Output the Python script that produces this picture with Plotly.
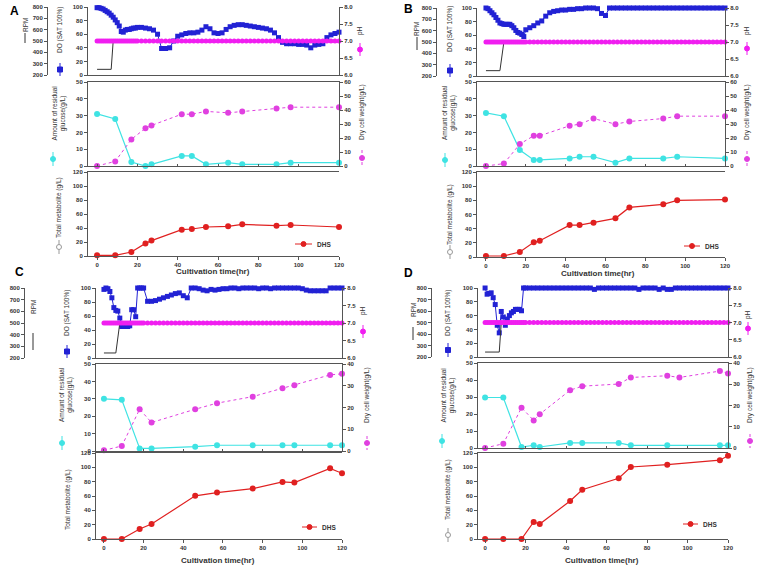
import plotly.graph_objects as go

W, H = 758, 569

# ---------------- data ----------------
# online DO / pH time grid (hourly first 20 h, then every 2 h)
t_do = list(range(0, 20)) + list(range(20, 121, 2))

do_A = [99, 99, 98, 97, 95, 93, 91, 88, 85, 81, 77, 72, 64, 63, 66, 67, 67, 68, 69, 69,
        70, 70, 69, 68, 66, 60, 39, 39, 40, 50,
        57, 59, 61, 62, 62, 63, 66, 71, 68, 62,
        61, 62, 67, 71, 73, 74, 74, 73, 72, 71,
        70, 69, 68, 66, 62, 55, 48, 46, 46, 46,
        45, 45, 44, 40, 44, 45, 46, 55, 59, 61,
        63]
do_B = [100, 99, 96, 93, 90, 86, 82, 78, 77, 76, 76, 76, 76, 74, 71, 67, 64, 63, 61, 58,
        68, 71, 74, 78, 81, 88, 93, 95, 96, 97,
        97, 98, 98, 99, 99, 100, 100, 100, 99, 92,
        89, 100, 100, 100, 100, 100, 100, 100, 100, 100,
        100, 100, 100, 100, 100, 100, 100, 100, 100, 100,
        100, 100, 100, 100, 100, 100, 100, 100, 100, 100,
        100]
do_C = [98, 100, 99, 95, 86, 72, 68, 67, 57, 45, 46, 45, 45, 46, 69, 69, 59, 100, 100, 100,
        100, 81, 81, 82, 84, 86, 88, 90, 92, 93,
        89, 86, 100, 100, 99, 97, 96, 98, 97, 98,
        99, 99, 100, 100, 99, 100, 100, 100, 100, 99,
        100, 100, 99, 100, 100, 100, 100, 100, 100, 100,
        99, 97, 96, 96, 96, 96, 96, 100, 100, 100,
        100]
do_D = [100, 91, 92, 93, 86, 76, 46, 35, 66, 58, 46, 55, 60, 64, 66, 69, 69, 69, 67, 100,
        100, 100, 100, 100, 100, 100, 100, 100, 100, 100,
        100, 100, 100, 100, 100, 100, 100, 98, 100, 100,
        100, 100, 100, 100, 100, 100, 100, 100, 98, 100,
        100, 100, 100, 98, 100, 98, 98, 100, 100, 100,
        100, 100, 100, 100, 100, 100, 100, 100, 100, 100,
        100]
ph_all = [7.0, 7.0, 7.0, 7.0, 7.0, 7.0, 7.0, 7.0, 7.0, 7.0, 7.0, 7.0, 7.0, 7.0, 7.0, 7.0, 7.0, 7.0, 7.0, 7.0,
          7.0, 7.0, 7.0, 7.0, 7.0, 7.0, 7.0, 7.0, 7.0, 7.0,
          7.0, 7.0, 7.0, 7.0, 7.0, 7.0, 7.0, 7.0, 7.0, 7.0,
          7.0, 7.0, 7.0, 7.0, 7.0, 7.0, 7.0, 7.0, 7.0, 7.0,
          7.0, 7.0, 7.0, 7.0, 7.0, 7.0, 7.0, 7.0, 7.0, 7.0,
          7.0, 7.0, 7.0, 7.0, 7.0, 7.0, 7.0, 7.0, 7.0, 7.0,
          7.0]

# agitation (RPM)
t_rpm_A = [0, 7, 8, 120]
rpm_A = [250, 250, 500, 500]
t_rpm_B = [0, 7, 9, 120]
rpm_B = [247, 247, 500, 500]
t_rpm_C = [0, 6, 8, 120]
rpm_C = [243, 243, 500, 500]
t_rpm_D = [0, 7, 8, 120]
rpm_D = [243, 243, 500, 500]

# off-line samples
t_s_A = [0, 9, 17, 24, 27, 42, 47, 54, 65, 72, 89, 96, 120]
glu_A = [31, 28, 2.4, 0, 1, 6, 6, 1, 2, 1, 1, 2, 2]
dcw_A = [0, 3.3, 19, 27, 29, 37, 37, 39, 38, 39, 41, 42, 42]
dhs_A = [1, 1, 5.7, 18, 22, 37.6, 38.6, 41.4, 42.4, 45.2, 43.3, 44.3, 41.4]

t_s_B = [0, 9, 17, 24, 27, 42, 47, 54, 65, 72, 89, 96, 120]
glu_B = [31.6, 29.6, 9.5, 3.6, 3.6, 4.5, 5.5, 5.5, 2, 4.5, 4.5, 5.5, 4.5]
dcw_B = [0, 1.7, 15.7, 21.6, 21.6, 28.7, 29.9, 33.9, 29.9, 31.8, 33.9, 35.6, 35.6]
dhs_B = [1.4, 1.4, 7, 20.7, 23, 45, 45, 48.5, 54.6, 70, 74.4, 80, 81]

t_s_C = [0, 9, 18, 24, 46, 57, 75, 90, 96, 114, 120]
glu_C = [30, 29.4, 1.5, 1.5, 2.5, 3.3, 3.3, 3.3, 3.3, 3.3, 3.3]
dcw_C = [0.3, 2.3, 19.2, 13.1, 19.2, 22, 25, 28.9, 30.2, 35, 35.5]
dhs_C = [0, 0, 13.9, 20.8, 60.2, 64.8, 70.4, 79.6, 78.7, 98.6, 91.7]

t_s_D = [0, 9, 18, 24, 27, 42, 48, 66, 72, 90, 116, 120]
glu_D = [29.7, 29.7, 0.6, 1.6, 0.6, 3, 3, 3, 1.6, 1.6, 1.6, 1.6]
dhs_D = [0, 0, 0, 23.7, 20.9, 53, 68.8, 84.7, 100.5, 103.7, 110, 116.3]
t_dcw_D = [0, 9, 18, 24, 27, 42, 48, 66, 72, 90, 96, 116, 120]
dcw_D = [0, 2, 19, 13, 15.9, 27.2, 29.1, 30.1, 33.2, 34, 33.2, 36.2, 35.1]

x_ticks = [0, 20, 40, 60, 80, 100, 120]
ph_ticks = [6.0, 6.5, 7.0, 7.5, 8.0]
ph_ticktext = ["6.0", "6.5", "7.0", "7.5", "8.0"]

# ---------------- style ----------------
FONT = "Arial, Liberation Sans, sans-serif"
TICKFONT = dict(family=FONT, size=6, color="#333333", weight="bold")
AX = "#555555"
C_DO = "#2222d4"
C_PH = "#f01ef0"
C_GLU = "#3fe3e3"
C_DCW = "#e040e0"
C_DHS = "#e02020"

panels = [
    dict(t_rpm=t_rpm_A, rpm=rpm_A, do=do_A, t_g=t_s_A, glu=glu_A, t_w=t_s_A, dcw=dcw_A, t_h=t_s_A, dhs=dhs_A,
         dcw_max=60,
         geo=dict(x0=88, x1=339, top=(7, 75), mid=(82, 166), bot=(172, 256), xr=[-4.5, 120], rpm_pos=47)),
    dict(t_rpm=t_rpm_B, rpm=rpm_B, do=do_B, t_g=t_s_B, glu=glu_B, t_w=t_s_B, dcw=dcw_B, t_h=t_s_B, dhs=dhs_B,
         dcw_max=60,
         geo=dict(x0=477, x1=725, top=(8, 76), mid=(82, 166), bot=(172, 257), xr=[-4.5, 120], rpm_pos=436)),
    dict(t_rpm=t_rpm_C, rpm=rpm_C, do=do_C, t_g=t_s_C, glu=glu_C, t_w=t_s_C, dcw=dcw_C, t_h=t_s_C, dhs=dhs_C,
         dcw_max=40,
         geo=dict(x0=96, x1=342, top=(288, 358), mid=(364, 451), bot=(453, 539), xr=[-4, 120], rpm_pos=24)),
    dict(t_rpm=t_rpm_D, rpm=rpm_D, do=do_D, t_g=t_s_D, glu=glu_D, t_w=t_dcw_D, dcw=dcw_D, t_h=t_s_D, dhs=dhs_D,
         dcw_max=40,
         geo=dict(x0=478, x1=728, top=(288, 357), mid=(363, 448), bot=(453, 539), xr=[-3.5, 120], rpm_pos=431)),
]


def fx(px):
    return px / W


def fy(py):
    return 1 - py / H


def aname(prefix, n):
    return prefix if n == 1 else f"{prefix}{n}"


def akey(prefix, n):
    return f"{prefix}axis" if n == 1 else f"{prefix}axis{n}"


fig = go.Figure()
layout = {}
shapes = []
annotations = []

base = dict(showgrid=False, zeroline=False, showline=True, linecolor=AX, linewidth=1, automargin=False,
            ticks="outside", ticklen=3, tickwidth=1, tickcolor=AX, tickfont=TICKFONT)

for p, P in enumerate(panels):
    g = P["geo"]
    nxt, nxm, nxb = 3 * p + 1, 3 * p + 2, 3 * p + 3
    ndo, nrpm, nph, nglu, ndcw, nmet = [6 * p + k for k in range(1, 7)]
    dom_x = [fx(g["x0"]), fx(g["x1"])]
    dtop = [fy(g["top"][1]), fy(g["top"][0])]
    dmid = [fy(g["mid"][1]), fy(g["mid"][0])]
    dbot = [fy(g["bot"][1]), fy(g["bot"][0])]

    layout[akey("x", nxt)] = dict(base, domain=dom_x, range=g["xr"], anchor=aname("y", ndo),
                                  showticklabels=False, ticks="", mirror=False)
    layout[akey("x", nxm)] = dict(base, domain=dom_x, range=g["xr"], anchor=aname("y", nglu),
                                  showticklabels=False, ticks="inside", ticklen=2, tickvals=x_ticks, mirror=True)
    layout[akey("x", nxb)] = dict(base, domain=dom_x, range=g["xr"], anchor=aname("y", nmet),
                                  tickvals=x_ticks, mirror=True)

    layout[akey("y", ndo)] = dict(base, domain=dtop, range=[0, 100], tickvals=[0, 20, 40, 60, 80, 100],
                                  anchor=aname("x", nxt), side="left")
    layout[akey("y", nrpm)] = dict(base, range=[200, 800], tickvals=[200, 300, 400, 500, 600, 700, 800],
                                   overlaying=aname("y", ndo), anchor="free", position=fx(g["rpm_pos"]),
                                   side="left")
    layout[akey("y", nph)] = dict(base, range=[6, 8], tickvals=ph_ticks, ticktext=ph_ticktext,
                                  overlaying=aname("y", ndo), anchor=aname("x", nxt), side="right")
    layout[akey("y", nglu)] = dict(base, domain=dmid, range=[0, 50], tickvals=[0, 10, 20, 30, 40, 50],
                                   anchor=aname("x", nxm), side="left")
    layout[akey("y", ndcw)] = dict(base, range=[0, P["dcw_max"]],
                                   tickvals=list(range(0, P["dcw_max"] + 1, 10)),
                                   overlaying=aname("y", nglu), anchor=aname("x", nxm), side="right")
    layout[akey("y", nmet)] = dict(base, domain=dbot, range=[0, 120], tickvals=[0, 20, 40, 60, 80, 100, 120],
                                   anchor=aname("x", nxb), side="left")

    xt, xm, xb = aname("x", nxt), aname("x", nxm), aname("x", nxb)
    fig.add_trace(go.Scatter(x=t_do, y=P["do"], xaxis=xt, yaxis=aname("y", ndo), mode="lines+markers",
                             line=dict(color=C_DO, width=1), marker=dict(symbol="square", size=5, color=C_DO),
                             cliponaxis=False, showlegend=False))
    fig.add_trace(go.Scatter(x=P["t_rpm"], y=P["rpm"], xaxis=xt, yaxis=aname("y", nrpm), mode="lines",
                             line=dict(color="#333333", width=1), showlegend=False))
    fig.add_trace(go.Scatter(x=t_do, y=ph_all, xaxis=xt, yaxis=aname("y", nph), mode="lines+markers",
                             line=dict(color=C_PH, width=2), marker=dict(symbol="circle", size=5, color=C_PH),
                             cliponaxis=False, showlegend=False))
    fig.add_trace(go.Scatter(x=P["t_g"], y=P["glu"], xaxis=xm, yaxis=aname("y", nglu), mode="lines+markers",
                             line=dict(color=C_GLU, width=1.2), marker=dict(symbol="circle", size=6, color=C_GLU),
                             cliponaxis=False, showlegend=False))
    fig.add_trace(go.Scatter(x=P["t_w"], y=P["dcw"], xaxis=xm, yaxis=aname("y", ndcw), mode="lines+markers",
                             line=dict(color=C_DCW, width=1, dash="dot"),
                             marker=dict(symbol="circle", size=6, color=C_DCW),
                             cliponaxis=False, showlegend=False))
    fig.add_trace(go.Scatter(x=P["t_h"], y=P["dhs"], xaxis=xb, yaxis=aname("y", nmet), mode="lines+markers",
                             line=dict(color=C_DHS, width=1.2), marker=dict(symbol="circle", size=6, color=C_DHS),
                             cliponaxis=False, showlegend=False))


# ---------------- titles / symbols ----------------
def rot_text(text, x, y, size=6.5, bold=False):
    annotations.append(dict(text=text, x=fx(x), y=fy(y), xref="paper", yref="paper", showarrow=False,
                            textangle=-90, xanchor="center", yanchor="middle",
                            font=dict(family=FONT, size=size, color="#333333",
                                      weight="bold" if bold else "normal")))


def text(t, x, y, size, anchor="center", bold=True, color="#222222"):
    annotations.append(dict(text=t, x=fx(x), y=fy(y), xref="paper", yref="paper", showarrow=False,
                            xanchor=anchor, yanchor="middle",
                            font=dict(family=FONT, size=size, color=color, weight="bold" if bold else "normal")))


def vsym(x, y0, y1, color, kind=None, dash="solid", fill=None):
    shapes.append(dict(type="line", xref="paper", yref="paper", x0=fx(x), x1=fx(x), y0=fy(y0), y1=fy(y1),
                       line=dict(color=color, width=1, dash=dash)))
    if kind:
        ym = (y0 + y1) / 2
        r = 2.5
        shapes.append(dict(type=kind, xref="paper", yref="paper", x0=fx(x - r), x1=fx(x + r),
                           y0=fy(ym + r), y1=fy(ym - r), fillcolor=fill or color, line=dict(color=color, width=1)))


def hsym(x0, x1, y, color):
    shapes.append(dict(type="line", xref="paper", yref="paper", x0=fx(x0), x1=fx(x1), y0=fy(y), y1=fy(y),
                       line=dict(color=color, width=1)))
    xm = (x0 + x1) / 2
    r = 2.5
    shapes.append(dict(type="circle", xref="paper", yref="paper", x0=fx(xm - r), x1=fx(xm + r),
                       y0=fy(y + r), y1=fy(y - r), fillcolor=color, line=dict(color=color, width=1)))


labels = [
    dict(L=("A", 8, 11), rpm=(25, 25, (33, 43)), do=(60, 30, (63, 76)), ph=(360, 31, (43, 56)),
         glu=(58.5, 113, 53, (152, 166)), dcw=(362, 112, (150, 166)), met=(59, 208, (240, 254)),
         dhs=(295, 312, 244), xt=(213, 271)),
    dict(L=("B", 402, 9), rpm=(417, 29, (37, 50)), do=(450, 29, (64, 77)), ph=(747, 31, (42, 55)),
         glu=(449, 113, 445, (153, 167)), dcw=(747, 112, (151, 167)), met=(450, 215, (245, 259)),
         dhs=(684, 700, 246), xt=(598, 273)),
    dict(L=("C", 13, 272), rpm=(33, 307, (333, 350)), do=(67, 313, (345, 358)), ph=(363, 311, (325, 338)),
         glu=(66, 395, 62, (436, 450)), dcw=(367, 395, (436, 450)), met=(68, 500, None),
         dhs=(302, 317, 527), xt=(218, 560)),
    dict(L=("D", 402, 273), rpm=(413, 310, (327, 340)), do=(448, 313, (343, 357)), ph=(748, 315, (322, 335)),
         glu=(447.5, 395, 442, (434, 448)), dcw=(750, 395, (434, 448)), met=(448, 490, (528, 542)),
         dhs=(683, 698, 524), xt=(602, 560)),
]

for lb in labels:
    text(lb["L"][0], lb["L"][1], lb["L"][2], 12, anchor="left", color="#000000")
    x, yc, (s0, s1) = lb["rpm"]
    rot_text("RPM", x, yc)
    vsym(x, s0, s1, "#333333")
    x, yc, (s0, s1) = lb["do"]
    rot_text("DO (SAT 100%)", x, yc)
    vsym(x, s0, s1, C_DO, "rect")
    x, yc, (s0, s1) = lb["ph"]
    rot_text("pH", x, yc)
    vsym(x, s0, s1, C_PH, "circle")
    x, yc, sx, (s0, s1) = lb["glu"]
    rot_text("Amount of residual<br>glucose(g/L)", x, yc)
    vsym(sx, s0, s1, C_GLU, "circle")
    x, yc, (s0, s1) = lb["dcw"]
    rot_text("Dry cell weight(g/L)", x, yc)
    vsym(x, s0, s1, C_DCW, "circle", dash="dot")
    x, yc, sym = lb["met"]
    rot_text("Total metabolite (g/L)", x, yc)
    if sym:
        vsym(x, sym[0], sym[1], "#999999", "circle", fill="#ffffff")
    x0, x1, y = lb["dhs"]
    hsym(x0, x1, y, C_DHS)
    text("DHS", x1 + 3, y, 6.5, anchor="left", color="#333333")
    text("Cultivation time(hr)", lb["xt"][0], lb["xt"][1], 8, color="#333333")

fig.update_layout(**layout)
fig.update_layout(width=W, height=H, autosize=False, margin=dict(l=0, r=0, t=0, b=0),
                  paper_bgcolor="white", plot_bgcolor="white", showlegend=False,
                  shapes=shapes, annotations=annotations)

fig.write_html("out.html", config={"displayModeBar": False},
               post_script="document.body.style.margin='0';document.body.style.overflow='hidden';")
